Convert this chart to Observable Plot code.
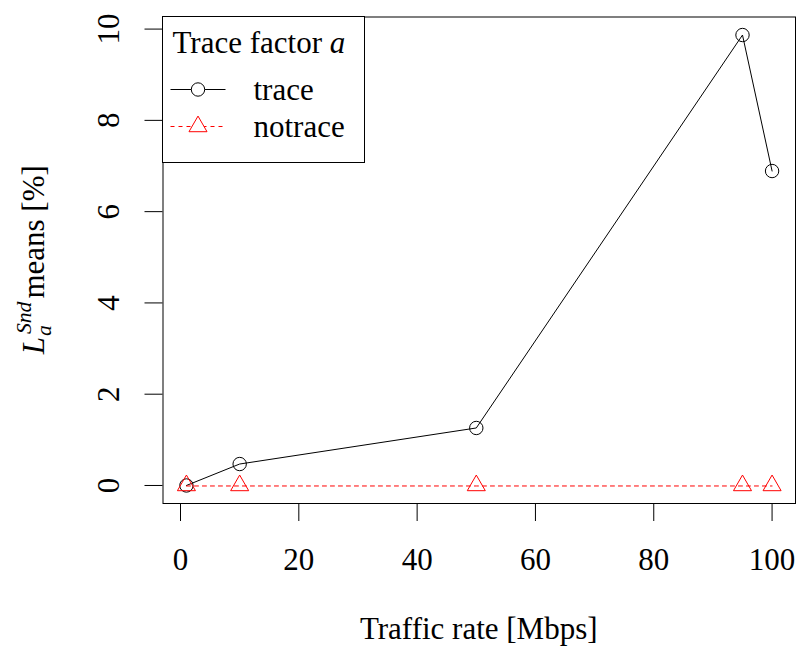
<!DOCTYPE html>
<html>
<head>
<meta charset="utf-8">
<script src="https://cdn.jsdelivr.net/npm/d3@7"></script>
<script src="https://cdn.jsdelivr.net/npm/@observablehq/plot@0.6"></script>
<style>
  html, body { margin: 0; padding: 0; background: #fff; }
  #chart svg { display: block; }
</style>
</head>
<body>
<div id="chart"></div>
<script>
// ---- data ----
const rates = [1, 10, 50, 95, 100];
const traceMeans = [0.0, 0.47, 1.26, 9.87, 6.89];
const notraceMeans = [0.0, 0.0, 0.0, 0.0, 0.0];
const xTicks = [0, 20, 40, 60, 80, 100];
const yTicks = [0, 2, 4, 6, 8, 10];
const seriesNames = ["trace", "notrace"];
const seriesColors = ["black", "#ff0000"];
const xLabel = "Traffic rate [Mbps]";
const legendTitle = "Trace factor ";

const FONT = "Liberation Serif, Tinos, Nimbus Roman, DejaVu Serif, serif";
const FS = 31;

const trace = rates.map((r, i) => ({rate: r, value: traceMeans[i]}));
const notrace = rates.map((r, i) => ({rate: r, value: notraceMeans[i]}));

// R-style 4% axis expansion
function ext(lo, hi) { const d = (hi - lo) * 0.04; return [lo - d, hi + d]; }
const allY = traceMeans.concat(notraceMeans);
const xDom = ext(d3.min(rates), d3.max(rates));
const yDom = ext(d3.min(allY), d3.max(allY));

const W = 796, H = 646;
const mL = 162.5, mR = 1, mT = 16.5, mB = 143;

const plot = Plot.plot({
  width: W, height: H,
  marginLeft: mL, marginRight: mR, marginTop: mT, marginBottom: mB,
  style: {fontFamily: FONT, fontSize: FS + "px", color: "black", background: "white"},
  x: {domain: xDom},
  y: {domain: yDom},
  marks: [
    Plot.axisX({ticks: xTicks, tickSize: 18, tickPadding: 26, fontSize: FS, label: null, stroke: "black"}),
    Plot.axisY({ticks: yTicks, tickSize: 18, tickPadding: 26, tickRotate: -90, fontSize: FS, label: null, stroke: "black"}),
    Plot.frame({stroke: "black", strokeWidth: 1}),
    Plot.line(trace, {x: "rate", y: "value", stroke: seriesColors[0], strokeWidth: 1}),
    Plot.dot(trace, {x: "rate", y: "value", r: 6.7, symbol: "circle", stroke: seriesColors[0], fill: "none", strokeWidth: 1}),
    Plot.line(notrace, {x: "rate", y: "value", stroke: seriesColors[1], strokeWidth: 1, strokeDasharray: "4,4", dy: 0.5})
      ,
    Plot.dot(notrace, {x: "rate", y: "value", r: 6.7, symbol: "triangle", stroke: seriesColors[1], fill: "none", strokeWidth: 1})
  ]
});
plot.setAttribute("font-family", FONT);
document.getElementById("chart").appendChild(plot);
// make the dashed data line render with the same pure red as the legend
d3.select(plot).selectAll("path[stroke-dasharray]").attr("stroke", seriesColors[1]);

// ---- annotations (axis titles and legend) ----
const svg = d3.select(plot);
const fx0 = mL, fy0 = mT, fx1 = W - mR, fy1 = H - mB;

// x axis title, centered on the plot region
svg.append("text")
  .attr("x", (fx0 + fx1) / 2).attr("y", 639)
  .attr("text-anchor", "middle")
  .style("font-family", FONT).attr("font-size", FS).attr("fill", "black")
  .text(xLabel);

// y axis title: L_a^{Snd} means [%]
const yg = svg.append("g").style("font-family", FONT).attr("fill", "black").attr("text-anchor", "start");
const tL = yg.append("text").attr("font-size", FS).attr("font-style", "italic").attr("x", 0).attr("y", 0).text("L");
const wL = tL.node().getComputedTextLength();
const tSub = yg.append("text").attr("font-size", FS * 0.7).attr("font-style", "italic").attr("x", wL + 1).attr("y", 7).text("a");
const tSup = yg.append("text").attr("font-size", FS * 0.7).attr("font-style", "italic").attr("x", wL + 3).attr("y", -13).text("Snd");
const wS = Math.max(tSub.node().getComputedTextLength() + 1, tSup.node().getComputedTextLength() + 3);
const tM = yg.append("text").attr("font-size", FS).attr("x", wL + wS + 3).attr("y", 0).text("means [%]");
const total = wL + wS + 3 + tM.node().getComputedTextLength();
yg.attr("transform", `translate(44,${(fy0 + fy1) / 2 + total / 2}) rotate(-90)`);

// legend (top-left of plot region)
const lg = svg.append("g").style("font-family", FONT).attr("font-size", FS).attr("fill", "black").attr("text-anchor", "start");
lg.append("rect").attr("x", fx0).attr("y", fy0).attr("width", 202).attr("height", 146)
  .attr("fill", "white").attr("stroke", "black").attr("stroke-width", 1);
const title = lg.append("text").attr("x", fx0 + 10).attr("y", fy0 + 36);
title.append("tspan").text(legendTitle);
title.append("tspan").attr("font-style", "italic").text("a");

const rows = [
  {name: seriesNames[0], y: fy0 + 73, color: seriesColors[0], dash: null, sym: d3.symbolCircle},
  {name: seriesNames[1], y: fy0 + 110, color: seriesColors[1], dash: "4,4", sym: d3.symbolTriangle}
];
const r = 6.7;
rows.forEach(row => {
  lg.append("line").attr("x1", fx0 + 8).attr("x2", fx0 + 63).attr("y1", row.y).attr("y2", row.y)
    .attr("stroke", row.color).attr("stroke-width", 1).attr("stroke-dasharray", row.dash);
  lg.append("path").attr("d", d3.symbol(row.sym, r * r * Math.PI)())
    .attr("transform", `translate(${fx0 + 35.5},${row.y})`)
    .attr("fill", "white").attr("stroke", row.color).attr("stroke-width", 1);
  lg.append("text").attr("x", fx0 + 91).attr("y", row.y + 10.5).text(row.name);
});
</script>
</body>
</html>
